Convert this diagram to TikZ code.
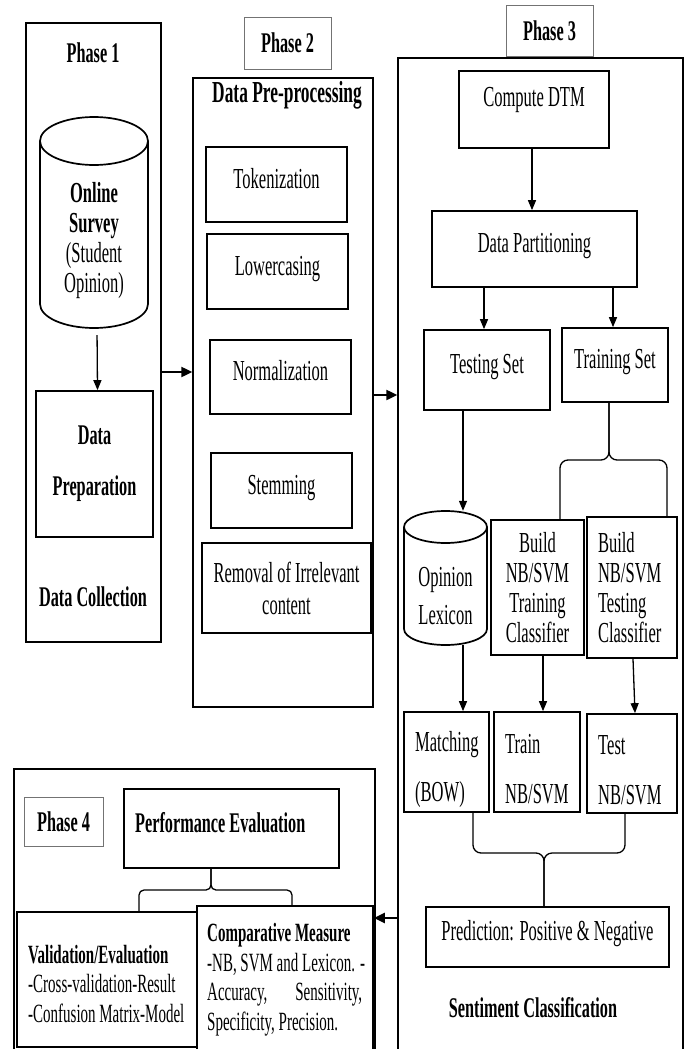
\documentclass[tikz,border=0pt]{standalone}
\usepackage{fontspec}
\setmainfont{Liberation Serif}[FakeStretch=0.57]
\usetikzlibrary{arrows.meta,calc}

% type sizes
\newcommand\fsN{\fontsize{29}{30}\selectfont}
\newcommand\fsB{\fontsize{28.5}{30}\selectfont\bfseries}
\newcommand\fsH{\fontsize{30.5}{30}\selectfont\bfseries}
\newcommand\fsP{\fontsize{28.5}{30}\selectfont\bfseries}
\newcommand\fsS{\fontsize{26.3}{29.5}\selectfont}

\begin{document}
\begin{tikzpicture}[x=1pt,y=-1pt,
  frame/.style={draw, line width=1.4pt, inner sep=0pt},
  tagbox/.style={draw=black!55, line width=0.9pt, inner sep=0pt, font=\fsP},
  box/.style={draw, line width=1.7pt, inner sep=0pt, align=center, font=\fsN},
  one/.style={text height=20pt, text depth=13pt},
  lbl/.style={inner sep=0pt, align=center},
  cyl/.style={line width=1.7pt},
  arr/.style={line width=1.3pt, -{Triangle[length=10pt,width=8pt]}},
  bigarr/.style={line width=2.2pt, -{Triangle[length=11pt,width=10pt]}},
  brace/.style={line width=1.3pt, rounded corners=8pt},
]
\useasboundingbox (0,0) rectangle (691,1049);
\fill[white] (0,0) rectangle (691,1049);

% ---------------- Phase 1: data collection ----------------
\node[frame, minimum width=135pt, minimum height=619pt] (p1) at (93.5,332.5) {};
\node[lbl, font=\fsP] (p1tag) at (93,53) {Phase 1};
\node[inner sep=0pt, minimum width=108pt, minimum height=211pt] (sv) at (94,222.5) {};
\draw[cyl] (40,141) -- (40,304) arc[start angle=180,end angle=360,x radius=54pt,y radius=24pt] -- (148,141);
\draw[cyl] (94,141) ellipse[x radius=54pt,y radius=24pt];
\node[lbl, font=\fsN] (svt) at (94,240.5) {\textbf{Online}\\\textbf{Survey}\\(Student\\Opinion)};
\node[box, font=\fsB, minimum width=117pt, minimum height=146pt] (prep) at (94.5,464) {Data\\[21pt]Preparation};
\node[lbl, font=\fsB] (dcol) at (93,597) {Data Collection};
\draw[arr, shorten <=7pt] ([xshift=3pt]sv.south) -- ([xshift=3pt]prep.north);

% ---------------- Phase 2: pre-processing ----------------
\node[tagbox, minimum width=87pt, minimum height=52pt] (p2tag) at (287.5,43) {Phase 2};
\node[frame, minimum width=180pt, minimum height=629pt] (p2) at (283,392.5) {};
\node[lbl, font=\fsH] (dpp) at (287,95) {Data Pre-processing};
\node[box, one, minimum width=141pt, minimum height=75pt] (tok) at (276.5,184.5) {Tokenization};
\node[box, one, minimum width=141pt, minimum height=75pt] (low) at (277.5,271.5) {Lowercasing};
\node[box, one, minimum width=141pt, minimum height=74pt] (nor) at (280.5,377) {Normalization};
\node[box, one, minimum width=141pt, minimum height=75pt] (stm) at (281.5,490.5) {Stemming};
\node[box, minimum width=169pt, minimum height=90pt] (rem) at (286.5,588) {Removal of Irrelevant\\[2pt]content};

\draw[bigarr] ([yshift=-39.5pt]p1.east) -- ([yshift=-39.5pt]p1.east -| p2.west);
\coordinate (a23) at ([yshift=-2.5pt]p2.east);

% ---------------- Phase 3: sentiment classification ----------------
\node[tagbox, minimum width=87pt, minimum height=51pt] (p3tag) at (549.5,30.5) {Phase 3};
\node[frame, minimum width=285pt, minimum height=1002pt] (p3) at (540.5,559) {};
\draw[bigarr] (a23) -- (a23 -| p3.west);

\node[box, one, text depth=26pt, minimum width=150pt, minimum height=77pt] (dtm) at (534,109.5) {Compute DTM};
\node[box, one, minimum width=205pt, minimum height=76pt] (dpart) at (534.5,249) {Data Partitioning};
\node[box, one, minimum width=126pt, minimum height=80pt] (tst) at (487,370) {Testing Set};
\node[box, one, minimum width=106pt, minimum height=74pt] (trs) at (615,365) {Training Set};
\draw[arr] ([xshift=-2pt]dtm.south) -- ([xshift=-2.5pt]dpart.north);
\draw[arr] ([xshift=-50.5pt]dpart.south) -- ([xshift=-3pt]tst.north);
\draw[arr] ([xshift=78.5pt]dpart.south) -- ([xshift=-2pt]trs.north);

% opinion lexicon store
\node[inner sep=0pt, minimum width=83pt, minimum height=134pt] (lex) at (445.5,578) {};
\draw[cyl] (404,527) -- (404,629) arc[start angle=180,end angle=360,x radius=41.5pt,y radius=16pt] -- (487,527);
\draw[cyl] (445.5,527) ellipse[x radius=41.5pt,y radius=16pt];
\node[lbl, font=\fsN] (lext) at (445.5,596.5) {Opinion\\[8pt]Lexicon};
\draw[arr] ([xshift=-24pt]tst.south) -- ([xshift=17.5pt]lex.north);

% classifier builders
\node[box, minimum width=93pt, minimum height=135pt] (bt) at (537.5,587.5) {Build\\NB/SVM\\Training\\Classifier};
\node[box, align=left, text width=68pt, inner xsep=11pt, minimum width=90pt, minimum height=141pt] (bs) at (632,587.5) {Build\\NB/SVM\\Testing\\Classifier};
\coordinate (trj) at (609,460);
\draw[brace] ([xshift=-6pt]trs.south) -- (trj) -| ([xshift=22.5pt]bt.north);
\draw[brace] ([xshift=-6pt]trs.south) -- (trj) -| ([xshift=35pt]bs.north);

% matching / training / testing
\node[box, minimum width=85pt, minimum height=100pt] (mat) at (446.5,762) {};
\node[lbl, anchor=west, align=left, font=\fsN] (matt) at (415,769.5) {Matching\\[20pt](BOW)};
\node[box, minimum width=86pt, minimum height=100pt] (trn) at (537,762) {};
\node[lbl, anchor=west, align=left, font=\fsN] (trnt) at (505,769.5) {Train\\[20pt]NB/SVM};
\node[box, minimum width=90pt, minimum height=99pt] (tes) at (632,763.5) {};
\node[lbl, anchor=west, align=left, font=\fsN] (test) at (598,770.5) {Test\\[20pt]NB/SVM};
\draw[arr] ([xshift=17.5pt]lex.south) -- ([xshift=16.5pt]mat.north);
\draw[arr] ([xshift=5.5pt]bt.south) -- ([xshift=6pt]trn.north);
\draw[arr] ([xshift=1pt]bs.south) -- ([xshift=3pt]tes.north);

% prediction
\node[box, one, minimum width=243pt, minimum height=60pt] (pred) at (547.5,937) {Prediction: Positive \& Negative};
\coordinate (bj) at (544,853);
\draw[brace] ([xshift=26.5pt]mat.south) |- (bj) -- ([xshift=-3.5pt]pred.north);
\draw[brace] ([xshift=-7pt]tes.south) |- (bj) -- ([xshift=-3.5pt]pred.north);
\node[lbl, font=\fsB] (sc) at (533,1008) {Sentiment Classification};

% ---------------- Phase 4: performance evaluation ----------------
\node[frame, minimum width=361pt, minimum height=291pt] (p4) at (194.5,914.5) {};
\node[tagbox, minimum width=79pt, minimum height=49pt] (p4tag) at (63.5,821.5) {Phase 4};
\node[box, minimum width=215pt, minimum height=79pt] (pe) at (231.5,828.5) {};
\node[lbl, font=\fsB, anchor=base west] (pet) at (135,832) {Performance Evaluation};
\node[box, minimum width=180pt, minimum height=135pt] (val) at (107,979.5) {};
\node[box, minimum width=176pt, minimum height=160pt] (cmp) at (285,986) {};
\node[lbl, anchor=west, align=left, font=\fsS] (valt) at (28,983.5)
  {\textbf{Validation/Evaluation}\\-Cross-validation-Result\\-Confusion Matrix-Model};
\node[lbl, anchor=west, align=left, font=\fsS] (cmpt) at (207,979.5)
  {\textbf{Comparative Measure}\\-NB, SVM and Lexicon. -\\\makebox[155pt]{Accuracy,\hfill Sensitivity,}\\Specificity, Precision.};
\coordinate (pj) at (211,890);
\draw[brace, rounded corners=5pt] ([xshift=-20.5pt]pe.south) -- (pj) -| ([xshift=32pt]val.north);
\draw[brace, rounded corners=5pt] ([xshift=-20.5pt]pe.south) -- (pj) -| ([xshift=7pt]cmp.north);

\coordinate (a34) at ([yshift=-359pt]p3.west);
\draw[bigarr] (a34) -- (a34 -| cmp.east);
\end{tikzpicture}
\end{document}
